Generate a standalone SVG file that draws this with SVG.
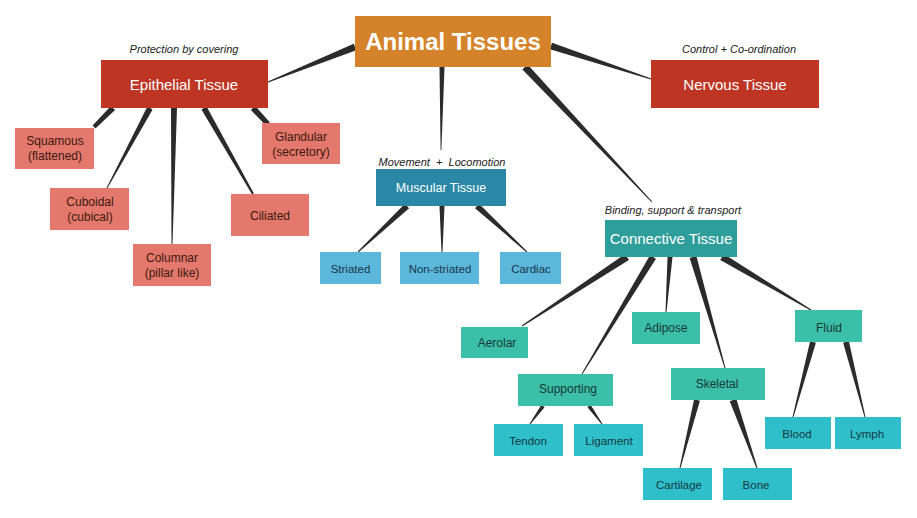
<svg xmlns="http://www.w3.org/2000/svg" width="917" height="518" viewBox="0 0 917 518">
<style>
text{font-family:"Liberation Sans",Arial,sans-serif;text-anchor:middle;dominant-baseline:central}
.con polygon{fill:#2b2b2b}
.root rect{fill:#D4832A}
.root text{fill:#fff;font-weight:bold;font-size:24px}
.red rect{fill:#BE3524}
.red text{fill:#fff;font-size:15px}
.epi rect{fill:#E5786C}
.epi text{fill:#3a1812;font-size:12px}
.mus rect{fill:#2A88A6}
.mus text{fill:#fff;font-size:12.5px}
.mc rect{fill:#5BB8DC}
.mc text{fill:#1d3547;font-size:11.5px}
.ct rect{fill:#2E9E9A}
.ct text{fill:#fff;font-size:15px}
.cc rect{fill:#3CBFA8}
.cc text{fill:#173a36;font-size:12px}
.leaf rect{fill:#2EBFCA}
.leaf text{fill:#173a40;font-size:11.5px}
g text.lbl{fill:#222;font-size:11px;font-style:italic}
</style>
<rect width="917" height="518" fill="#fff"/>
<g id="connectors" class="con">
<polygon points="353.7,43.8 267.8,81.5 268.2,82.5 356.3,50.2"/>
<polygon points="552.1,42.7 651.2,78.5 650.8,79.5 549.9,49.3"/>
<polygon points="439.5,67 440.6,150 441.4,150 444.5,67"/>
<polygon points="527.6,64.6 652.4,201.7 651.6,202.3 522.4,69.4"/>
<polygon points="110.9,105.9 92.6,125.6 95.4,128.4 115.1,110.1"/>
<polygon points="147.4,106.6 106.6,187.8 107.4,188.2 152.6,109.4"/>
<polygon points="171,108 171.5,244 172.5,244 177,108"/>
<polygon points="206.6,106.5 253.9,193.5 252.1,194.5 201.4,109.5"/>
<polygon points="255.2,106 269.8,122.3 266.2,125.7 250.8,110"/>
<polygon points="404.9,203.8 357.7,251.6 358.3,252.4 409.1,208.2"/>
<polygon points="439.5,206 441.5,252 442.5,252 444.5,206"/>
<polygon points="479,203.8 527.3,251.6 526.7,252.4 475,208.2"/>
<polygon points="625.1,254.1 521.7,325.6 522.3,326.4 628.9,259.9"/>
<polygon points="650,255.2 581.6,373.7 582.4,374.3 656,258.8"/>
<polygon points="667.5,257 665.5,312 666.5,312 672.5,257"/>
<polygon points="696.4,256 725.5,367.9 724.5,368.1 689.6,258"/>
<polygon points="723.8,254 811.3,309.6 810.7,310.4 720.2,260"/>
<polygon points="541.4,404.8 529.6,423.7 530.4,424.3 544.6,407.2"/>
<polygon points="590.6,404.8 602.4,423.7 601.6,424.3 587.4,407.2"/>
<polygon points="694.1,399.3 679.5,467.9 680.5,468.1 699.9,400.7"/>
<polygon points="736.3,398.8 757.5,467.8 756.5,468.2 729.7,401.2"/>
<polygon points="810.1,341.2 792.5,416.9 793.5,417.1 815.9,342.8"/>
<polygon points="848.9,341.3 865.5,416.9 864.5,417.1 843.1,342.7"/>
</g>
<g id="animal" class="root"><rect x="355" y="16" width="196" height="51"/><text x="453" y="41.5">Animal Tissues</text></g>
<g id="epithelial" class="red"><text class="lbl" x="184" y="49">Protection by covering</text><rect x="101" y="60" width="167" height="48"/><text x="184" y="84">Epithelial Tissue</text></g>
<g id="nervous" class="red"><text class="lbl" x="739" y="49">Control + Co-ordination</text><rect x="651" y="60" width="168" height="48"/><text x="735" y="84">Nervous Tissue</text></g>
<g id="squamous" class="epi"><rect x="15" y="128" width="79" height="41"/><text x="55" y="141">Squamous</text><text x="55" y="156">(flattened)</text></g>
<g id="cuboidal" class="epi"><rect x="50" y="188" width="79" height="42"/><text x="90" y="201.5">Cuboidal</text><text x="90" y="216.5">(cubical)</text></g>
<g id="columnar" class="epi"><rect x="133" y="244" width="78" height="42"/><text x="172" y="257.5">Columnar</text><text x="172" y="272.5">(pillar like)</text></g>
<g id="ciliated" class="epi"><rect x="231" y="194" width="78" height="42"/><text x="270" y="215.5">Ciliated</text></g>
<g id="glandular" class="epi"><rect x="262" y="123" width="78" height="41"/><text x="301" y="136.5">Glandular</text><text x="301" y="151.5">(secretory)</text></g>
<g id="muscular" class="mus"><text class="lbl" x="442" y="162">Movement&#160;&#160;+&#160;&#160;Locomotion</text><rect x="376" y="169" width="130" height="37"/><text x="441" y="188">Muscular Tissue</text></g>
<g id="striated" class="mc"><rect x="320" y="252" width="61" height="32"/><text x="350.5" y="268.5">Striated</text></g>
<g id="nonstriated" class="mc"><rect x="400" y="252" width="79" height="32"/><text x="440" y="268.5">Non-striated</text></g>
<g id="cardiac" class="mc"><rect x="500" y="252" width="61" height="32"/><text x="531" y="268.5">Cardiac</text></g>
<g id="connective" class="ct"><text class="lbl" x="673" y="210">Binding, support &amp; transport</text><rect x="605" y="220" width="132" height="37"/><text x="671" y="238.5">Connective Tissue</text></g>
<g id="aerolar" class="cc"><rect x="461" y="327" width="67" height="31"/><text x="497" y="342.5">Aerolar</text></g>
<g id="adipose" class="cc"><rect x="632" y="312" width="68" height="32"/><text x="666" y="328">Adipose</text></g>
<g id="fluid" class="cc"><rect x="795" y="310" width="67" height="32"/><text x="829" y="328">Fluid</text></g>
<g id="supporting" class="cc"><rect x="518" y="374" width="95" height="32"/><text x="568" y="389">Supporting</text></g>
<g id="skeletal" class="cc"><rect x="671" y="368" width="94" height="32"/><text x="717" y="384">Skeletal</text></g>
<g id="tendon" class="leaf"><rect x="494" y="424" width="69" height="32"/><text x="528" y="441">Tendon</text></g>
<g id="ligament" class="leaf"><rect x="574" y="424" width="69" height="32"/><text x="609" y="441">Ligament</text></g>
<g id="cartilage" class="leaf"><rect x="643" y="468" width="69" height="32"/><text x="679" y="485">Cartilage</text></g>
<g id="bone" class="leaf"><rect x="723" y="468" width="69" height="32"/><text x="756" y="485">Bone</text></g>
<g id="blood" class="leaf"><rect x="765" y="417" width="66" height="32"/><text x="797" y="434">Blood</text></g>
<g id="lymph" class="leaf"><rect x="835" y="417" width="66" height="32"/><text x="867" y="434">Lymph</text></g>
</svg>
